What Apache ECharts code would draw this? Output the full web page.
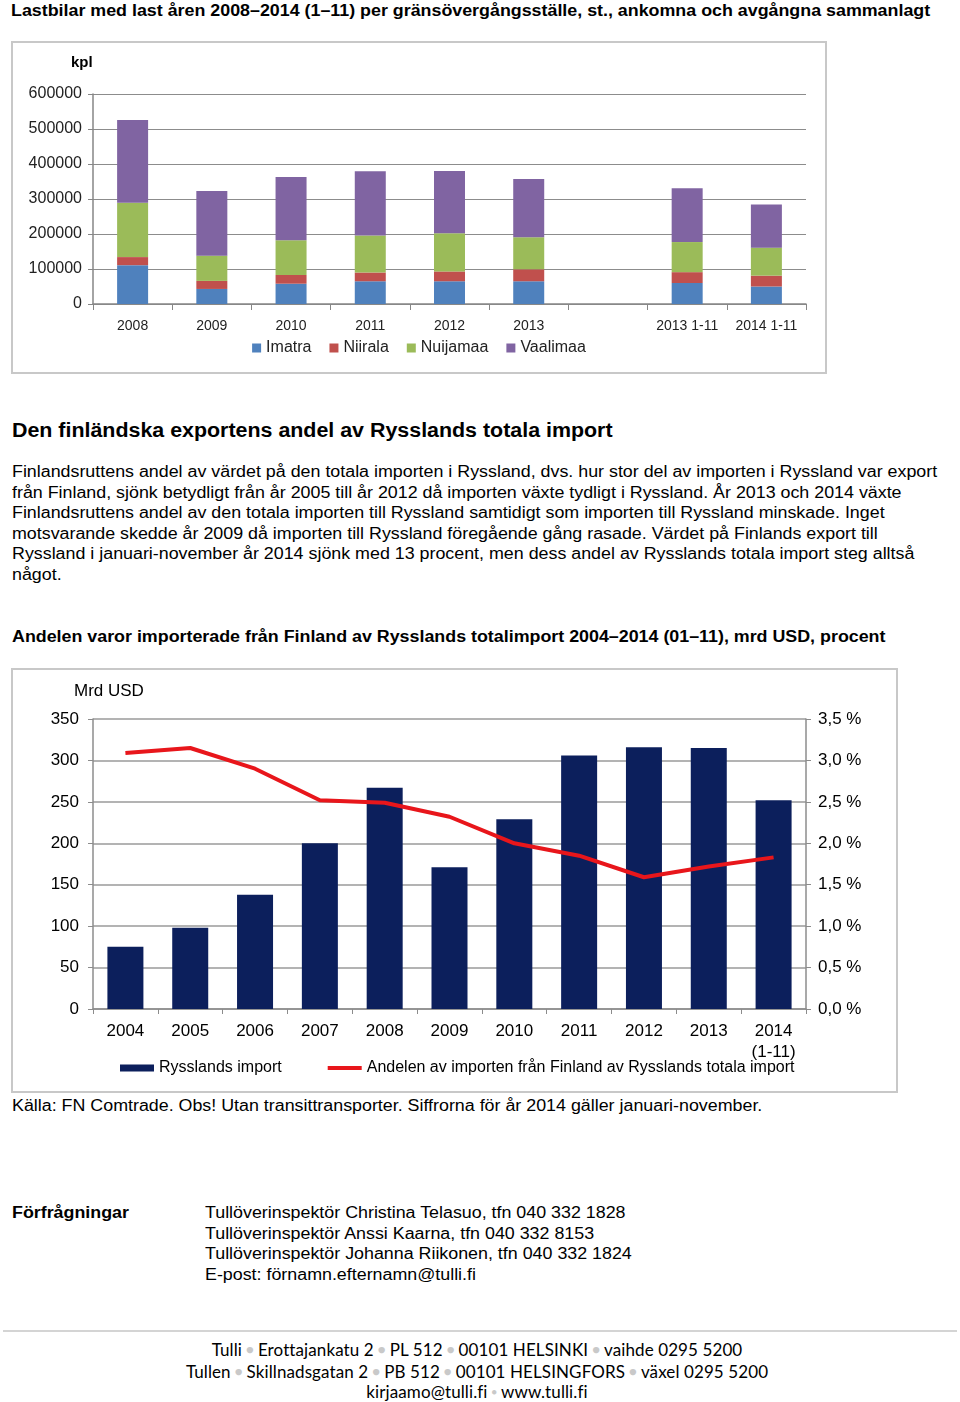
<!DOCTYPE html>
<html><head><meta charset="utf-8">
<script src="https://cdn.jsdelivr.net/npm/echarts@6/dist/echarts.min.js"></script>
<style>
html,body{margin:0;padding:0;background:#fff;}
body{width:960px;height:1402px;position:relative;overflow:hidden;font-family:"Liberation Sans",Arial,sans-serif;color:#000;}
.t{position:absolute;white-space:nowrap;}
.w{transform:scaleX(1.115);transform-origin:0 0;}
.frame{position:absolute;border:2px solid #c8c8c8;box-sizing:border-box;}
.dot{color:#c9c9c9;font-size:13px;vertical-align:2px;padding:0 4px;}
.sdot{color:#c9c9c9;font-size:9px;vertical-align:3px;padding:0 4px;}
</style></head>
<body>
<div class="t w" style="left:11px;top:1px;font-size:16px;line-height:20px;font-weight:bold;">Lastbilar med last åren 2008–2014 (1–11) per gränsövergångsställe, st., ankomna och avgångna sammanlagt</div>
<div id="c1" class="frame" style="left:11px;top:41px;width:816px;height:333px;"></div>

<div class="t" style="left:12px;top:418px;font-size:20px;line-height:24px;font-weight:bold;transform:scaleX(1.07);transform-origin:0 0;">Den finländska exportens andel av Rysslands totala import</div>
<div class="t w" style="left:12px;top:462px;font-size:16px;line-height:20.6px;">Finlandsruttens andel av värdet på den totala importen i Ryssland, dvs. hur stor del av importen i Ryssland var export<br>från Finland, sjönk betydligt från år 2005 till år 2012 då importen växte tydligt i Ryssland. År 2013 och 2014 växte<br>Finlandsruttens andel av den totala importen till Ryssland samtidigt som importen till Ryssland minskade. Inget<br>motsvarande skedde år 2009 då importen till Ryssland föregående gång rasade. Värdet på Finlands export till<br>Ryssland i januari-november år 2014 sjönk med 13 procent, men dess andel av Rysslands totala import steg alltså<br>något.</div>

<div class="t w" style="left:12px;top:627px;font-size:16px;line-height:20px;font-weight:bold;">Andelen varor importerade från Finland av Rysslands totalimport 2004–2014 (01–11), mrd USD, procent</div>
<div id="c2" class="frame" style="left:11px;top:668px;width:887px;height:425px;"></div>
<div class="t w" style="left:12px;top:1096px;font-size:16px;line-height:20px;">Källa: FN Comtrade. Obs! Utan transittransporter. Siffrorna för år 2014 gäller januari-november.</div>

<div class="t w" style="left:12px;top:1203px;font-size:16px;line-height:20.6px;font-weight:bold;">Förfrågningar</div>
<div class="t w" style="left:205px;top:1203px;font-size:16px;line-height:20.6px;">Tullöverinspektör Christina Telasuo, tfn 040 332 1828<br>Tullöverinspektör Anssi Kaarna, tfn 040 332 8153<br>Tullöverinspektör Johanna Riikonen, tfn 040 332 1824<br>E-post: förnamn.efternamn@tulli.fi</div>

<div style="position:absolute;left:3px;top:1330px;width:954px;height:2px;background:#d4d4d4;"></div>
<div class="t" style="left:0;width:954px;top:1339px;text-align:center;font-family:Lato,'Open Sans',sans-serif;font-size:17px;line-height:20.5px;letter-spacing:0.1px;">Tulli<span class="dot">●</span>Erottajankatu 2<span class="dot">●</span>PL 512<span class="dot">●</span>00101 HELSINKI<span class="dot">●</span>vaihde 0295 5200<br>Tullen<span class="dot">●</span>Skillnadsgatan 2<span class="dot">●</span>PB 512<span class="dot">●</span>00101 HELSINGFORS<span class="dot">●</span>växel 0295 5200<br>kirjaamo@tulli.fi<span class="sdot">●</span>www.tulli.fi</div>

<script>
// ---- Chart 1 data ----
const cats1 = ['2008','2009','2010','2011','2012','2013','','2013 1-11','2014 1-11'];
const imatra   = [111000, 43000, 58000, 65000, 65000, 65000, null, 60000, 50000];
const niirala  = [ 23000, 23000, 25000, 25000, 28000, 34000, null, 31000, 31000];
const nuijamaa = [155000, 72000, 99000,106000,109000, 92000, null, 86000, 80000];
const vaalimaa = [237000,185000,181000,183000,178000,166000, null,154000,123000];
const names1 = ['Imatra','Niirala','Nuijamaa','Vaalimaa'];
const colors1 = ['#4f81bd','#c0504d','#9bbb59','#8064a2'];

// ---- Chart 2 data ----
const years = ['2004','2005','2006','2007','2008','2009','2010','2011','2012','2013','2014\n(1-11)'];
const importUSD = [75, 98, 138, 200, 267, 171, 229, 306, 316, 315, 252];
const finlandShare = [3.09, 3.15, 2.90, 2.52, 2.49, 2.32, 2.00, 1.85, 1.59, 1.72, 1.83];

const FF = '"Liberation Sans", Arial, sans-serif';

const c1 = echarts.init(document.getElementById('c1'));
const s1 = [imatra, niirala, nuijamaa, vaalimaa].map((d, i) => ({
  name: names1[i], type: 'bar', stack: 'tot', data: d, barWidth: 31,
  itemStyle: { color: colors1[i] }, emphasis: { disabled: true }
}));
c1.setOption({
  animation: false,
  textStyle: { fontFamily: FF },
  grid: { left: 80, top: 51, width: 713, height: 210, containLabel: false },
  legend: {
    data: names1, bottom: 11, left: 'center', itemWidth: 9, itemHeight: 9, itemGap: 18,
    icon: 'rect', textStyle: { fontSize: 16, color: '#222', fontFamily: FF }
  },
  graphic: [{ type: 'text', left: 58, top: 12, style: { text: 'kpl', font: 'bold 15px ' + FF, fill: '#000' } }],
  xAxis: {
    type: 'category', data: cats1,
    axisLine: { lineStyle: { color: '#868686', width: 1.5 } },
    axisTick: { show: true, length: 6, lineStyle: { color: '#868686' } },
    axisLabel: { fontSize: 14, color: '#222', margin: 15, interval: 0 }
  },
  yAxis: {
    type: 'value', min: 0, max: 600000, interval: 100000,
    axisLine: { show: true, lineStyle: { color: '#868686', width: 1.5 } },
    axisTick: { show: true, length: 5, lineStyle: { color: '#868686' } },
    axisLabel: { fontSize: 16, color: '#222', margin: 11, formatter: v => String(v) },
    splitLine: { lineStyle: { color: '#8c8c8c', width: 1.2 } }
  },
  series: s1
});

const c2 = echarts.init(document.getElementById('c2'));
c2.setOption({
  animation: false,
  textStyle: { fontFamily: FF },
  grid: { left: 80, top: 49, width: 713, height: 290, containLabel: false },
  legend: {
    left: 102, top: 385, itemGap: 46, itemWidth: 34, itemHeight: 7, symbolKeepAspect: true,
    textStyle: { fontSize: 16, color: '#000', fontFamily: FF },
    data: [
      { name: 'Rysslands import', icon: 'rect' },
      { name: 'Andelen av importen från Finland av Rysslands totala import', icon: 'path://M0,0 L34,0 L34,4 L0,4 Z', itemStyle: { color: '#e8161b' } }
    ]
  },
  graphic: [{ type: 'text', left: 61, top: 13, style: { text: 'Mrd USD', font: '17px ' + FF, fill: '#000' } }],
  xAxis: {
    type: 'category', data: years,
    axisLine: { lineStyle: { color: '#8c8c8c', width: 1.5 } },
    axisTick: { show: true, length: 5, lineStyle: { color: '#8c8c8c' } },
    axisLabel: { fontSize: 17, color: '#000', margin: 12, interval: 0, lineHeight: 21 }
  },
  yAxis: [{
    type: 'value', min: 0, max: 350, interval: 50,
    axisLine: { show: true, lineStyle: { color: '#8c8c8c', width: 1.5 } },
    axisTick: { show: true, length: 5, lineStyle: { color: '#8c8c8c' } },
    axisLabel: { fontSize: 17, color: '#000', margin: 14 },
    splitLine: { lineStyle: { color: '#9a9a9a', width: 1.5 } }
  }, {
    type: 'value', min: 0, max: 3.5, interval: 0.5, position: 'right',
    axisLine: { show: true, lineStyle: { color: '#8c8c8c', width: 1.5 } },
    axisTick: { show: true, length: 5, lineStyle: { color: '#8c8c8c' } },
    axisLabel: { fontSize: 17, color: '#000', margin: 12, formatter: v => v.toFixed(1).replace('.', ',') + ' %' },
    splitLine: { show: false }
  }],
  series: [{
    name: 'Rysslands import', type: 'bar', data: importUSD, barWidth: 36,
    itemStyle: { color: '#0c1f5c' }, emphasis: { disabled: true }
  }, {
    name: 'Andelen av importen från Finland av Rysslands totala import', type: 'line', yAxisIndex: 1,
    data: finlandShare, symbol: 'none', lineStyle: { color: '#e8161b', width: 4 },
    itemStyle: { color: '#e8161b' }, emphasis: { disabled: true }
  }]
});
</script>
</body></html>
